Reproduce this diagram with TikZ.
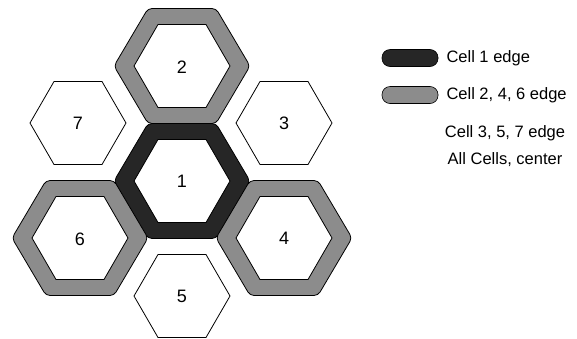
\documentclass[tikz,border=0pt]{standalone}
\usepackage{fontspec}
\setmainfont{Liberation Sans}
\usetikzlibrary{positioning}

\begin{document}
\begin{tikzpicture}[x=1pt,y=-1pt,
  ring/.style={draw=black, line width=0.8pt, even odd rule},
  plaincell/.style={draw=black, line width=0.8pt, fill=white},
  num/.style={font=\fontsize{18}{21}\selectfont, inner sep=0pt},
  swatch/.style={draw=black, line width=0.6pt, rounded corners=8pt,
                 minimum width=56pt, minimum height=17pt, inner sep=0pt},
  keytext/.style={font=\fontsize{16.5}{19}\selectfont, inner sep=0pt}
]
\useasboundingbox (0,0) rectangle (577,338);

% edge rings: cell 1 dark, cells 2, 4, 6 grey
\foreach \cx/\cy/\shade in {182/181/black!85, 182/66/black!45, 284/238/black!45, 80/238/black!45}
  \filldraw[ring, fill=\shade, shift={(\cx,\cy)}]
    [rounded corners=4pt] (0,-57.5) -- (34,-57.5) -- (68,0) -- (34,57.5) -- (-34,57.5) -- (-68,0) -- (-34,-57.5) -- cycle
    [sharp corners] (-48,0) -- (-24,-41.5) -- (24,-41.5) -- (48,0) -- (24,41.5) -- (-24,41.5) -- cycle;

% cells 3, 5, 7 (no ring)
\foreach \cx/\cy in {284/123, 182/296, 78/123}
  \draw[plaincell, shift={(\cx,\cy)}]
    (-48,0) -- (-24,-41.5) -- (24,-41.5) -- (48,0) -- (24,41.5) -- (-24,41.5) -- cycle;

\node[num] (c1) at (182,181) {1};
\node[num] (c2) at (182,67)  {2};
\node[num] (c3) at (284,123) {3};
\node[num] (c4) at (284,238) {4};
\node[num] (c5) at (182,296) {5};
\node[num] (c6) at (80,239)  {6};
\node[num] (c7) at (78,123)  {7};

% legend
\node[swatch, fill=black!85] (key1) at (410,58) {};
\node[swatch, fill=black!45] (key2) at (410,95) {};
\node[keytext, right=8pt of key1] (lab1) {Cell 1 edge};
\node[keytext, right=8pt of key2] (lab2) {Cell 2, 4, 6 edge};
\node[keytext] (lab3) at (505,133) {Cell 3, 5, 7 edge};
\node[keytext] (lab4) at (505,160) {All Cells, center};
\end{tikzpicture}
\end{document}
